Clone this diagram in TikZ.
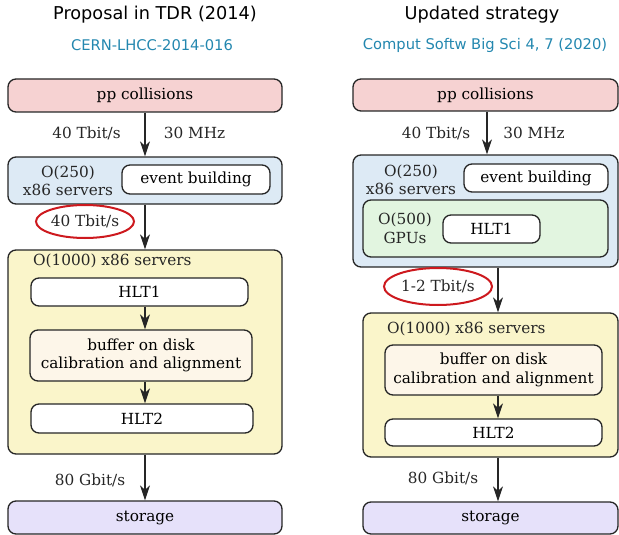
\documentclass[tikz,border=0pt]{standalone}
\usepackage{fontspec}
\setmainfont{DejaVu Serif}
\newfontfamily\headfont{DejaVu Sans}
\usepackage{tikz}
\usetikzlibrary{shapes.geometric,arrows.meta,positioning,calc}
\usepackage{xcolor}
\definecolor{pp-pink}{RGB}{246,210,210}
\definecolor{farm-blue}{RGB}{221,234,245}
\definecolor{hlt-yellow}{RGB}{250,245,202}
\definecolor{buf-cream}{RGB}{253,246,233}
\definecolor{gpu-green}{RGB}{226,245,224}
\definecolor{stor-lilac}{RGB}{230,225,250}
\definecolor{ref-teal}{RGB}{35,135,175}
\definecolor{mark-red}{RGB}{205,25,30}

\tikzset{
  box/.style={draw=black!85, line width=1.3pt, rounded corners=8pt, inner sep=0pt, align=center, font=\fontsize{15.3}{18.5}\selectfont},
  txt/.style={inner sep=0pt, align=center, text=black!85, font=\fontsize{15.3}{18.5}\selectfont},
  flow/.style={line width=1.2pt, draw=black!85, -{Stealth[length=15pt,width=10pt,inset=4.5pt]}},
  rate/.style={ellipse, draw=mark-red, line width=2pt, inner sep=0pt, text=black!85, font=\fontsize{15.3}{18.5}\selectfont},
  title/.style={font=\headfont\fontsize{17.7}{21}\selectfont},
  cite/.style={font=\headfont\fontsize{14.7}{17}\selectfont, text=ref-teal}
}

\begin{document}
\begin{tikzpicture}[x=1pt, y=-1pt]
    \useasboundingbox (0,0) rectangle (619,535);

    % Headings
    \node[title] (headL) at (155,15) {Proposal in TDR (2014)};
    \node[cite] (citeL) at (152,45) {CERN-LHCC-2014-016};
    \node[title] (headR) at (482,15) {Updated strategy};
    \node[cite] (citeR) at (485,45) {Comput Softw Big Sci 4, 7 (2020)};

    % Left chain (TDR)
    \node[box, fill=pp-pink, minimum width=274, minimum height=33] (ppL) at (145,95.5) {pp collisions};
    \node[box, fill=farm-blue, minimum width=274, minimum height=47] (farmL) at (145,180.5) {};
    \node[txt] (ebnL) at (68,181) {O(250)\\x86 servers};
    \node[box, fill=white, minimum width=148, minimum height=29] (ebL) at (196,179.5) {event building};
    \node[box, fill=hlt-yellow, minimum width=274, minimum height=204] (hltL) at (145,352) {};
    \node[txt, anchor=west] (hltnL) at (33,261) {O(1000) x86 servers};
    \node[box, fill=white, minimum width=217, minimum height=28] (hltoneL) at (139.5,292) {HLT1};
    \node[box, fill=buf-cream, minimum width=222, minimum height=51] (bufL) at (141,355.5) {buffer on disk\\calibration and alignment};
    \node[box, fill=white, minimum width=222, minimum height=29] (hlttwoL) at (142,418.5) {HLT2};
    \node[box, fill=stor-lilac, minimum width=274, minimum height=33] (storL) at (145,517.5) {storage};

    \node[txt] (inL) at (86.5,133) {40 Tbit/s};
    \node[txt] (freqL) at (194.5,133) {30 MHz};
    \node[rate, minimum width=98, minimum height=33] (ebrateL) at (85,221.5) {40 Tbit/s};
    \node[txt] (outL) at (90,480) {80 Gbit/s};

    \draw[flow] (ppL) -- (farmL);
    \draw[flow] (farmL) -- (hltL);
    \draw[flow] (hltoneL.south -| hltL) -- (bufL.north -| hltL);
    \draw[flow] (bufL.south -| hltL) -- (hlttwoL.north -| hltL);
    \draw[flow] (hltL) -- (storL);

    % Right chain (updated)
    \node[box, fill=pp-pink, minimum width=265, minimum height=32] (ppR) at (485.5,95) {pp collisions};
    \node[box, fill=farm-blue, minimum width=265, minimum height=112] (farmR) at (485.5,211) {};
    \node[txt] (ebnR) at (411,180) {O(250)\\x86 servers};
    \node[box, fill=white, minimum width=144, minimum height=28] (ebR) at (536,178) {event building};
    \node[box, fill=gpu-green, minimum width=245, minimum height=57] (gpuR) at (485.5,228.5) {};
    \node[txt] (gpunR) at (405,228.5) {O(500)\\GPUs};
    \node[box, fill=white, minimum width=97, minimum height=28] (hltoneR) at (491.5,229) {HLT1};
    \node[box, fill=hlt-yellow, minimum width=255, minimum height=144] (hltR) at (490.5,385) {};
    \node[txt, anchor=west] (hltnR) at (387,329) {O(1000) x86 servers};
    \node[box, fill=buf-cream, minimum width=217, minimum height=50] (bufR) at (493.5,370) {buffer on disk\\calibration and alignment};
    \node[box, fill=white, minimum width=217, minimum height=27] (hlttwoR) at (493.5,432.5) {HLT2};
    \node[box, fill=stor-lilac, minimum width=255, minimum height=32] (storR) at (490.5,518) {storage};

    \node[txt] (inR) at (436,133) {40 Tbit/s};
    \node[txt] (freqR) at (534,133) {30 MHz};
    \node[rate, minimum width=108, minimum height=37] (hltrateR) at (438,286.5) {1-2 Tbit/s};
    \node[txt] (outR) at (443,478) {80 Gbit/s};

    \coordinate (lane) at (498,0);
    \draw[flow] (ppR.south -| 487,0) -- (farmR.north -| 487,0);
    \draw[flow] (farmR.south -| lane) -- (hltR.north -| lane);
    \draw[flow] (bufR.south -| lane) -- (hlttwoR.north -| lane);
    \draw[flow] (hltR.south -| lane) -- (storR.north -| lane);
\end{tikzpicture}
\end{document}
